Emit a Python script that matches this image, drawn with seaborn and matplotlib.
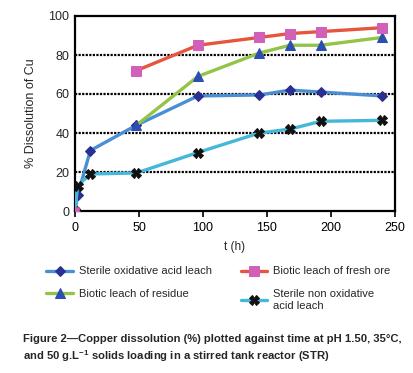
import matplotlib
matplotlib.use("Agg")
import matplotlib.pyplot as plt
import seaborn as sns

# data
ox_t = [0, 2, 12, 48, 96, 144, 168, 192, 240]
ox_y = [0, 8, 31, 44, 59, 59.5, 62, 61, 59]

fresh_t = [0, 48, 96, 144, 168, 192, 240]
fresh_y = [0, 72, 85, 89, 91, 92, 94]

res_t = [48, 96, 144, 168, 192, 240]
res_y = [44, 69, 81, 85, 85, 89]

nonox_t = [0, 2, 12, 48, 96, 144, 168, 192, 240]
nonox_y = [0, 13, 19, 19.5, 30, 40, 42, 46, 46.5]

y_ticks = [0, 20, 40, 60, 80, 100]
x_ticks = [0, 50, 100, 150, 200, 250]

sns.set_theme(style="white")
plt.rcParams["font.family"] = ["Liberation Sans", "DejaVu Sans"]
plt.rcParams["mathtext.fontset"] = "custom"
plt.rcParams["mathtext.rm"] = "Liberation Sans:bold"
plt.rcParams["mathtext.default"] = "rm"

fig = plt.figure(figsize=(4.14, 3.73), dpi=100)
ax = fig.add_axes([75 / 414, 1 - 211 / 373, 320 / 414, 195 / 373])

sns.lineplot(x=ox_t, y=ox_y, ax=ax, color="#4a8fd4", lw=2.4, marker="D", ms=5.5,
             markerfacecolor="#2b2f8f", markeredgecolor="#2b2f8f", zorder=3)
sns.lineplot(x=nonox_t, y=nonox_y, ax=ax, color="#45b7d9", lw=2.4, marker="X", ms=6.5,
             markerfacecolor="#111111", markeredgecolor="#111111", zorder=3)
sns.lineplot(x=res_t, y=res_y, ax=ax, color="#93c447", lw=2.4, marker="^", ms=6.5,
             markerfacecolor="#2a4fb0", markeredgecolor="#2a4fb0", zorder=4)
sns.lineplot(x=fresh_t[1:], y=fresh_y[1:], ax=ax, color="#e5553f", lw=2.4, marker="s", ms=6.5,
             markerfacecolor="#d161b8", markeredgecolor="#d161b8", zorder=4)
sns.scatterplot(x=fresh_t[:1], y=fresh_y[:1], ax=ax, marker="s", s=36,
                color="#d161b8", edgecolor="#d161b8", zorder=5)

ax.set_xlim(0, 250)
ax.set_ylim(0, 100)
ax.set_xticks(x_ticks)
ax.set_yticks(y_ticks)
ax.tick_params(axis="x", direction="out", length=4, width=1.2, colors="black",
               labelsize=9, bottom=True, pad=4)
ax.tick_params(axis="y", length=0, labelsize=9, pad=4)
for v in y_ticks[1:-1]:
    ax.axhline(v, color="black", lw=1.6, ls=(0, (1, 0.6)), zorder=1)
for s in ax.spines.values():
    s.set_color("black")
    s.set_linewidth(1.6)
ax.set_xlabel("t (h)", fontsize=8.5, labelpad=5)
ax.set_ylabel("% Dissolution of Cu", fontsize=9, labelpad=8)

handles = ax.get_lines()
h_ox, h_nonox, h_res, h_fresh = handles[0], handles[1], handles[2], handles[3]
fig.legend([h_ox, h_res, h_fresh, h_nonox],
           ["Sterile oxidative acid leach", "Biotic leach of residue",
            "Biotic leach of fresh ore", "Sterile non oxidative\nacid leach"],
           ncol=2, loc="upper left", bbox_to_anchor=(42 / 414, 1 - 262 / 373),
           frameon=False, fontsize=8, handlelength=2.4, handletextpad=0.5,
           columnspacing=2.6, labelspacing=1.15, borderaxespad=0)

fig.text(23 / 414, 1 - 349 / 373,
         "Figure 2\u2014Copper dissolution (%) plotted against time at pH 1.50, 35°C,\n"
         "and 50 g.L$^{-1}$ solids loading in a stirred tank reactor (STR)",
         fontsize=8.1, fontweight="bold",
         va="center", ha="left", linespacing=1.4)

fig.savefig("out.png", dpi=100)
